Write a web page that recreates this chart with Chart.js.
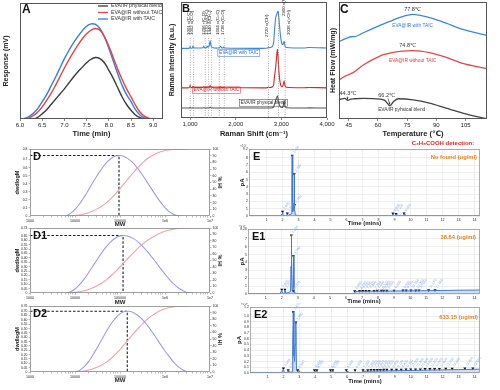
<!DOCTYPE html>
<html><head><meta charset="utf-8">
<script src="https://cdn.jsdelivr.net/npm/chart.js@4.4.1/dist/chart.umd.min.js"></script>
<style>
html,body{margin:0;padding:0;background:#fff;}
body{width:500px;height:390px;position:relative;overflow:hidden;}
canvas{position:absolute;}
</style></head><body>
<canvas id="cA"></canvas><canvas id="cB"></canvas><canvas id="cC"></canvas>
<canvas id="cD"></canvas><canvas id="cD1"></canvas><canvas id="cD2"></canvas>
<canvas id="cE"></canvas><canvas id="cE1"></canvas><canvas id="cE2"></canvas>
<script>
// ===== Panel A : response vs time =====
const aTime    = [6.0,6.1,6.2,6.3,6.4,6.5,6.6,6.7,6.8,6.9,7.0,7.1,7.2,7.3,7.4,7.5,7.6,7.7,7.8,7.9,8.0,8.1,8.2,8.3,8.4,8.5,8.6,8.7,8.8,8.9,9.0,9.1,9.2];
const aBlend   = [0,0,0,0,1.5,4.5,8,12.5,17,21.5,26,31,36,40.5,44.5,48.5,51.5,53,52,48.5,42,35,27,19,12.5,7.5,3.5,1.2,0,0,0,0,0];
const aNoTAIC  = [0,0,0.8,3,6,10.5,16,22,29,36.5,44,51,57.5,63.5,69,73.5,76.5,78,76.5,71,63,53,43,34,26,19,12,6,2.5,0.7,0,0,0];
const aTAIC    = [0,0.5,2,5,9,15,21,28.5,36,44,52,59,65.5,71,76,80,82,81.5,78,71,61,50,39,29,21,15,8,3.5,1,0,0,0,0];
const aTickVals = [6.0,6.5,7.0,7.5,8.0,8.5,9.0];
const aLabels = ['EVA/IR physical blend','EVA@IR without TAIC','EVA@IR with TAIC'];

// ===== Panel B : Raman spectra =====
const ramanShift  = [800,950,990,1001,1015,1050,1062,1078,1150,1280,1296,1315,1360,1370,1385,1420,1440,1460,1500,1640,1664,1690,1720,1738,1760,2600,2700,2720,2740,2800,2830,2850,2870,2885,2900,2915,2930,2950,2980,3010,3036,3060,3080,3110,3500,3600,4000];
const ramanTAIC   = [60,60,60.3,61.5,60.3,60.4,62,60.5,60.3,60.5,62,60.6,60.8,62,61,62.5,66.5,62,60.6,60.5,61.8,60.5,60.4,61.2,60.3,60,60.4,61.2,60.6,61.5,65,76,85,88,89.5,91.5,92,84,71,64,63.5,66,62,60.8,60.3,60.8,60.3];
const ramanNoTAIC = [26,26,26.5,28.5,26.5,26.3,27.2,26.4,26.2,26.3,27,26.4,26.4,26.8,26.4,26.8,28,26.8,26.3,26.2,26.8,26.2,26.2,26.4,26.1,26,26.2,26.6,26.3,26.8,28.5,36,42,48,55,59,51,38,29,27,28,32,28,26.5,26.1,26.3,26];
const ramanBlend  = [8.6,8.6,8.7,9.2,8.7,8.6,9,8.6,8.6,8.6,8.9,8.6,8.6,8.8,8.6,8.7,9.4,8.7,8.6,8.6,8.8,8.6,8.6,8.7,8.6,8.6,8.6,8.8,8.6,8.8,9.5,12,14.5,16.5,18,19,16,12,9.5,9,9.5,15,10,8.8,8.6,8.7,8.6];
const ramanBands  = [1004,1078,1332,1405,1471,1639,1749,2718,2937,3083];
const ramanBandLabels = ['1001 ν(C-C)','1062 ν(C-O)','1296 τ(C-O)','1370 ω(CH₂)','1440 δ(CH₂)','1664 ν(C=C)','1738 ν(C=O)','2720 ν(CH)','2900 ν(CH₂)','3036 ν(=CH)'];
const bTickVals = [1000,2000,3000,4000];

// ===== Panel C : DSC =====
const cTemp    = [40,43,44.5,46,48,52.5,61,63.5,66.2,68,70.5,78,86.5,95,103.5,115.5];
const cTAIC    = [66,68.5,69.4,70.3,70.4,73.7,80,81.8,83.5,84.7,86.4,89.5,86.7,82,76.5,71.7];
const cNoTAIC  = [33.4,36.5,37.6,38.7,40.5,46.2,53.8,55.2,56.3,56.9,57.5,58.4,56.7,52.7,47.6,43.3];
const cBlend   = [16.4,17.6,15.9,17.0,17.3,17.6,17.0,15.9,11.3,15.0,17.3,16.4,13.6,9.3,5.1,0.3];
const cTickVals = [45,60,75,90,105];

// ===== Panels D, D1, D2 : molecular weight distributions =====
const mwGrid = [3980,5010,6310,7940,10000,12600,15800,20000,25100,31600,39800,50100,63100,79400,100000,126000,158000,200000,251000,316000,398000,501000,631000,794000,1000000,1260000,1580000,2000000,2510000,3160000,3980000,5010000];
const dwD  = [null,null,0,0.033,0.083,0.149,0.231,0.324,0.417,0.508,0.592,0.66,0.712,0.742,0.75,0.735,0.702,0.651,0.584,0.508,0.423,0.336,0.252,0.171,0.105,0.051,0.017,0.002,0,null,null,null];
const hiD  = [null,null,0,0.3,0.8,1.6,3,5,7.5,11,15,20,26,33,41,49,57,65,72.5,79,85,89.5,93,95.8,97.7,99,99.8,100,100,100,null,null];
const dwD1 = [null,null,0,0.014,0.046,0.095,0.155,0.23,0.308,0.387,0.462,0.53,0.586,0.627,0.65,0.655,0.643,0.619,0.582,0.534,0.476,0.415,0.348,0.28,0.215,0.153,0.10,0.057,0.025,0.006,0,null];
const hiD1 = [null,null,0,0.3,1,2,3.5,5.5,8,11.5,15.5,20.5,26.5,33,40,47.5,55,62,69,75,80.5,85,89,92.3,95,97,98.3,99.2,99.7,100,100,null];
const dwD2 = [null,null,null,null,0,0.018,0.059,0.119,0.197,0.285,0.378,0.469,0.552,0.62,0.669,0.696,0.699,0.683,0.651,0.604,0.543,0.472,0.397,0.318,0.242,0.174,0.107,0.059,0.022,0.003,0,null];
const hiD2 = [null,null,null,null,0,0.5,1.5,3,5,7.5,11,15,20.5,27,34,42,50,58,66,73,79.5,85,89.5,93,95.8,97.8,99,99.7,100,100,null,null];
const dPeakMW  = [95000,117000,145000];
const dPeakVal = [0.75,0.655,0.70];
const dYMax    = [0.83,0.74,0.76];
const dYStep   = [0.1,0.05,0.05];
const dXLabels = {1000:'1000',10000:'10000',100000:'100000',1000000:'1e6',10000000:'1e7'};

// ===== Panels E, E1, E2 : chromatograms =====
const eTime   = [-0.1,1.9,1.97,2.0,2.04,2.25,2.3,2.34,2.55,2.58,2.6,2.62,2.65,2.7,2.72,2.73,2.76,2.8,3.0,8.85,8.9,8.95,9.05,9.1,9.15,9.55,9.6,9.65,14.35];
const eSignal = [0.05,0.05,0.3,0.55,0.08,0.05,0.3,0.06,0.3,4,8.3,3,0.6,1.4,1.8,5.7,1.0,0.15,0.05,0.05,0.3,0.06,0.05,0.25,0.05,0.05,0.3,0.05,0.05];
const eMarkT  = [2.0,2.3,2.6,2.73,2.75,8.9,9.1,9.6];
const eMarkV  = [0.6,0.35,8.3,5.75,1.5,0.35,0.3,0.35];
const e1Time   = [-0.1,1.9,2.0,2.05,2.15,2.2,2.25,2.55,2.58,2.6,2.62,2.65,2.7,2.73,2.76,2.8,3.0,6.5,6.6,7.0,8.0,9.0,10.0,11.0,12.0,13.0,14.0,14.35];
const e1Signal = [0.05,0.05,0.5,0.1,0.1,0.5,0.08,0.3,3.5,7.45,2.5,0.5,1.2,4.8,0.8,0.15,0.05,0.05,0.3,0.33,0.36,0.38,0.4,0.42,0.45,0.48,0.5,0.52];
const e1MarkT  = [2.0,2.2,2.6,2.73,2.72,6.55,6.85,7.05,7.25,7.45,7.75,7.95,8.2,8.35,8.55,9.0,9.55,9.75,10.05,10.35,10.55,11.15,11.55];
const e1MarkV  = [0.55,0.55,7.45,4.8,0.4,0.35,0.38,0.38,0.4,0.4,0.4,0.42,0.42,0.42,0.43,0.44,0.45,0.45,0.46,0.46,0.47,0.48,0.49];
const e2Time   = [-0.1,1.9,2.0,2.05,2.25,2.3,2.35,2.55,2.58,2.62,2.66,2.7,2.74,2.78,2.82,2.95,3.0,3.05,3.95,4.0,4.1,4.15,4.95,5.0,5.1,5.15,5.95,6.0,6.05,6.9,7.0,8.0,9.0,10.0,11.0,12.0,13.0,14.0,14.35];
const e2Signal = [0.01,0.01,0.07,0.01,0.01,0.04,0.01,0.02,0.5,1.07,0.3,0.2,0.5,0.89,0.05,0.01,0.04,0.01,0.01,0.035,0.035,0.01,0.01,0.035,0.035,0.01,0.01,0.035,0.01,0.01,0.03,0.035,0.04,0.045,0.05,0.055,0.06,0.065,0.068];
const e2MarkT  = [2.0,2.3,2.62,2.78,2.9,3.95,4.1,4.95,5.1,5.95,6.5,7.0,7.3,7.5,7.7,7.9,8.1,8.3,8.5,8.8,9.1,9.4,9.7,10.0,10.3,10.6,10.9,11.2,11.5,11.8,12.2,12.6,13.4,13.9];
const e2MarkV  = [0.08,0.05,1.07,0.89,0.05,0.05,0.05,0.05,0.05,0.05,0.05,0.05,0.05,0.055,0.055,0.055,0.055,0.06,0.06,0.06,0.06,0.06,0.065,0.065,0.065,0.065,0.07,0.07,0.07,0.07,0.075,0.075,0.08,0.08];
const eTickVals = [1,2,3,4,5,6,7,8,9,10,11,12,13,14];
const eYMax  = [9.2,8.26,1.16];
const eYStep = [1,1,0.1];
const eConc  = ['No found (ug/ml)','38.64 (ug/ml)','633.15 (ug/ml)'];

// ===== helpers =====
const FONT = "'Liberation Sans', Arial, 'DejaVu Sans', 'Noto Sans CJK SC', sans-serif";
Chart.defaults.font.family = FONT;
Chart.defaults.color = '#222';
Chart.defaults.animation = false;
Chart.defaults.responsive = false;
Chart.defaults.devicePixelRatio = 1;
Chart.defaults.plugins.legend.display = false;
Chart.defaults.plugins.tooltip.enabled = false;
Chart.defaults.elements.point.radius = 0;

const fixW = w => s => { s.width = w; s.paddingTop = 0; s.paddingBottom = 0; };
const fixH = h => s => { s.height = h; s.paddingLeft = 0; s.paddingRight = 0; };
const setTicks = arr => s => { s.ticks = arr.map(v => ({value: v})); };
const pts = (xs, ys) => xs.map((x, i) => ({x: x, y: ys[i]})).filter(p => p.y !== null);

const framePlugin = { id: 'frame', afterDatasetsDraw(chart, args, o) {
  const ctx = chart.ctx, a = chart.chartArea;
  ctx.save(); ctx.strokeStyle = o.color || '#444'; ctx.lineWidth = o.width || 1;
  ctx.strokeRect(Math.round(a.left) + 0.5, Math.round(a.top) + 0.5, Math.round(a.width) - 1, Math.round(a.height) - 1);
  ctx.restore();
}};
const textPlugin = { id: 'texts', afterDraw(chart, args, o) {
  const ctx = chart.ctx, a = chart.chartArea;
  (o.lines || []).forEach(l => {
    const xs = chart.scales.x, ys = chart.scales.y;
    const x1 = xs.getPixelForValue(l.from[0]), y1 = ys.getPixelForValue(l.from[1]);
    const x2 = xs.getPixelForValue(l.to[0]), y2 = ys.getPixelForValue(l.to[1]);
    ctx.save(); ctx.strokeStyle = l.color || '#333'; ctx.fillStyle = l.color || '#333'; ctx.lineWidth = 0.7;
    ctx.beginPath(); ctx.moveTo(x1, y1); ctx.lineTo(x2, y2); ctx.stroke();
    const ang = Math.atan2(y2 - y1, x2 - x1);
    ctx.beginPath(); ctx.moveTo(x2, y2);
    ctx.lineTo(x2 - 2.2 * Math.cos(ang - 0.5), y2 - 2.2 * Math.sin(ang - 0.5));
    ctx.lineTo(x2 - 2.2 * Math.cos(ang + 0.5), y2 - 2.2 * Math.sin(ang + 0.5));
    ctx.closePath(); ctx.fill(); ctx.restore();
  });
  (o.items || []).forEach(t => {
    let x, y;
    if (t.data) { x = chart.scales[t.xs || 'x'].getPixelForValue(t.data[0]); y = chart.scales[t.ys || 'y'].getPixelForValue(t.data[1]); }
    else { x = a.left + t.dx; y = a.top + t.dy; }
    ctx.save(); ctx.translate(x, y); if (t.rot) ctx.rotate(t.rot);
    ctx.font = t.font; ctx.fillStyle = t.color || '#222';
    ctx.textAlign = t.align || 'left'; ctx.textBaseline = t.base || 'middle';
    ctx.fillText(t.text, 0, 0);
    if (t.box) {
      const w = ctx.measureText(t.text).width, h = t.box;
      let bx = -1.5; if (t.align === 'center') bx = -w / 2 - 1.5; if (t.align === 'right') bx = -w - 1.5;
      ctx.strokeStyle = t.color; ctx.lineWidth = 0.5; ctx.strokeRect(bx, -h / 2 - 1, w + 3, h + 2);
    }
    ctx.restore();
  });
}};
const legendPlugin = { id: 'legendA', afterDraw(chart, args, o) {
  const ctx = chart.ctx; ctx.save(); ctx.font = o.font; ctx.textBaseline = 'middle';
  chart.data.datasets.forEach((ds, i) => {
    const y = o.y + i * o.dy;
    ctx.strokeStyle = ds.borderColor; ctx.lineWidth = 1.3;
    ctx.beginPath(); ctx.moveTo(o.x, y); ctx.lineTo(o.x + o.len, y); ctx.stroke();
    ctx.fillStyle = '#333'; ctx.fillText(ds.label, o.x + o.len + 3, y);
  });
  ctx.restore();
}};
const bandPlugin = { id: 'bands', afterDatasetsDraw(chart, args, o) {
  const ctx = chart.ctx, xs = chart.scales.x, a = chart.chartArea;
  ctx.save();
  o.pos.forEach((p, i) => {
    const st = o.style[i];
    const x = xs.getPixelForValue(p);
    ctx.strokeStyle = '#8a8a8a'; ctx.lineWidth = 0.7; ctx.setLineDash([1, 1.4]);
    ctx.beginPath(); ctx.moveTo(x, a.top + st.lineTop); ctx.lineTo(x, a.bottom); ctx.stroke();
    ctx.setLineDash([]);
    ctx.save(); ctx.translate(x + st.tdx, a.top + st.textBottom); ctx.rotate(-Math.PI / 2);
    ctx.font = o.font; ctx.fillStyle = '#222'; ctx.textBaseline = 'middle'; ctx.textAlign = 'left';
    ctx.fillText(o.labels[i], 0, 0); ctx.restore();
  });
  ctx.restore();
}};
const markPlugin = { id: 'markLabels', afterDatasetsDraw(chart, args, o) {
  const meta = chart.getDatasetMeta(o.index), ds = chart.data.datasets[o.index], ctx = chart.ctx;
  ctx.save(); ctx.font = o.font; ctx.fillStyle = o.color; ctx.textBaseline = 'middle';
  meta.data.forEach((p, i) => {
    ctx.save(); ctx.translate(p.x + 1.5, p.y - 2.5); ctx.rotate(-0.95);
    ctx.fillText(ds.data[i].x.toFixed(3), 0, 0); ctx.restore();
  });
  ctx.restore();
}};

function mk(id, box, cfg) {
  const c = document.getElementById(id);
  c.width = box[2]; c.height = box[3];
  c.style.left = box[0] + 'px'; c.style.top = box[1] + 'px';
  c.style.width = box[2] + 'px'; c.style.height = box[3] + 'px';
  return new Chart(c, cfg);
}
const axisGridOff = {display: false};
const tickMarks = {display: true, drawOnChartArea: false, drawTicks: true, tickLength: 2, color: '#555', lineWidth: 0.7};

// ===== A =====
mk('cA', [0, 0, 170, 140], {
  type: 'line',
  data: { datasets: [
    {label: aLabels[0], data: pts(aTime, aBlend), borderColor: '#3a3a3a'},
    {label: aLabels[1], data: pts(aTime, aNoTAIC), borderColor: '#e8433d'},
    {label: aLabels[2], data: pts(aTime, aTAIC), borderColor: '#2f7fe4'}
  ]},
  options: {
    layout: {padding: {top: 3, right: 7, left: 0, bottom: 0}},
    elements: {line: {tension: 0.4, borderWidth: 1.4}},
    scales: {
      x: {type: 'linear', min: 6.0, max: 9.22, afterFit: fixH(21), afterBuildTicks: setTicks(aTickVals),
          ticks: {font: {size: 6}, padding: 1, maxRotation: 0, autoSkip: false, callback: v => v.toFixed(1)},
          grid: tickMarks, border: {display: false},
          title: {display: true, text: 'Time (min)', font: {size: 7.5, weight: 'bold'}, padding: {top: 0, bottom: 1.5}}},
      y: {min: 0, max: 100, afterFit: fixW(20), ticks: {display: false}, grid: axisGridOff, border: {display: false},
          title: {display: true, text: 'Response (mV)', font: {size: 7, weight: 'bold'}, padding: {top: 1.5, bottom: 0}}}
    },
    plugins: {
      frame: {color: '#555'},
      legendA: {x: 98, y: 6, dy: 6.5, len: 10, font: '5.2px ' + FONT},
      texts: {items: [{text: 'A', dx: 2, dy: 1, font: 'bold 12px ' + FONT, base: 'top', color: '#111'}]}
    }
  },
  plugins: [framePlugin, textPlugin, legendPlugin]
});

// ===== B =====
const bandStyle = [
  {lineTop: 36, textBottom: 33, tdx: -1.5}, {lineTop: 36, textBottom: 33, tdx: -1.5},
  {lineTop: 36, textBottom: 33, tdx: -1.5}, {lineTop: 36, textBottom: 33, tdx: -1.5},
  {lineTop: 36, textBottom: 33, tdx: -1.5}, {lineTop: 36, textBottom: 33, tdx: -1.5},
  {lineTop: 36, textBottom: 33, tdx: -1.5}, {lineTop: 37, textBottom: 35, tdx: -2},
  {lineTop: 14, textBottom: 14, tdx: 5}, {lineTop: 40, textBottom: 33, tdx: 4}
];
mk('cB', [168, 0, 168, 140], {
  type: 'line',
  data: { datasets: [
    {data: pts(ramanShift, ramanTAIC), borderColor: '#3b86e0'},
    {data: pts(ramanShift, ramanNoTAIC), borderColor: '#e02424'},
    {data: pts(ramanShift, ramanBlend), borderColor: '#555'}
  ]},
  options: {
    layout: {padding: {top: 2, right: 9, left: 0, bottom: 0}},
    elements: {line: {tension: 0.2, borderWidth: 1.1}},
    scales: {
      x: {type: 'linear', min: 800, max: 4000, afterFit: fixH(22), afterBuildTicks: setTicks(bTickVals),
          ticks: {font: {size: 6}, padding: 1, maxRotation: 0, autoSkip: false},
          grid: tickMarks, border: {display: false},
          title: {display: true, text: 'Raman Shift (cm⁻¹)', font: {size: 7.5, weight: 'bold'}, padding: {top: 0, bottom: 2}}},
      y: {min: 0, max: 100, afterFit: fixW(13), ticks: {display: false}, grid: axisGridOff, border: {display: false},
          title: {display: true, text: 'Raman Intensity (a.u.)', font: {size: 7, weight: 'bold'}, padding: {top: 0, bottom: 0}}}
    },
    plugins: {
      frame: {color: '#555'},
      bands: {pos: ramanBands, labels: ramanBandLabels, style: bandStyle, font: '4.4px ' + FONT},
      texts: {items: [
        {text: 'B', dx: 1, dy: 1, font: 'bold 11px ' + FONT, base: 'top', color: '#111'},
        {text: 'EVA@IR with TAIC', data: [1640, 56], font: '4.6px ' + FONT, color: '#2f6fd0', box: 4.6},
        {text: 'EVA@IR without TAIC', data: [1080, 24], font: '4.6px ' + FONT, color: '#e02424', box: 4.6},
        {text: 'EVA/IR physical blend', data: [2110, 13], font: '4.6px ' + FONT, color: '#333', box: 4.6}
      ]}
    }
  },
  plugins: [framePlugin, textPlugin, bandPlugin]
});

// ===== C =====
mk('cC', [329, 0, 171, 140], {
  type: 'line',
  data: { datasets: [
    {data: pts(cTemp, cTAIC), borderColor: '#3a86e6'},
    {data: pts(cTemp, cNoTAIC), borderColor: '#e84545'},
    {data: pts(cTemp, cBlend), borderColor: '#444'}
  ]},
  options: {
    layout: {padding: {top: 2, right: 13, left: 0, bottom: 0}},
    elements: {line: {cubicInterpolationMode: 'monotone', borderWidth: 1.3}},
    scales: {
      x: {type: 'linear', min: 40, max: 116, afterFit: fixH(21), afterBuildTicks: setTicks(cTickVals),
          ticks: {font: {size: 6}, padding: 1, maxRotation: 0, autoSkip: false},
          grid: tickMarks, border: {display: false},
          title: {display: true, text: 'Temperature (℃)', font: {size: 7.5, weight: 'bold'}, padding: {top: 0, bottom: 1.5}}},
      y: {min: 0, max: 100, afterFit: fixW(10), ticks: {display: false}, grid: axisGridOff, border: {display: false},
          title: {display: true, text: 'Heat Flow (mW/mg)', font: {size: 7, weight: 'bold'}, padding: {top: 0, bottom: 0}}}
    },
    plugins: {
      frame: {color: '#555'},
      texts: {
        lines: [{from: [44.3, 19.2], to: [44.4, 16.6]}, {from: [65.2, 17.5], to: [66.1, 12.3]}],
        items: [
        {text: 'C', dx: 1, dy: 2, font: 'bold 12px ' + FONT, base: 'top', color: '#111'},
        {text: '77.8℃', data: [77.8, 93.5], font: '5.5px ' + FONT, align: 'center', color: '#333'},
        {text: 'EVA@IR with TAIC', data: [77.8, 79.5], font: '4.8px ' + FONT, align: 'center', color: '#2f7fe0'},
        {text: '74.8℃', data: [75.3, 63.2], font: '5.5px ' + FONT, align: 'center', color: '#333'},
        {text: 'EVA@IR without TAIC', data: [77.8, 49.6], font: '4.8px ' + FONT, align: 'center', color: '#e23c3c'},
        {text: '44.3℃', data: [44.6, 21.5], font: '5.5px ' + FONT, align: 'center', color: '#333'},
        {text: '66.2℃', data: [64.5, 20.5], font: '5.5px ' + FONT, align: 'center', color: '#333'},
        {text: 'EVA/IR pyhsical blend', data: [72.2, 7.7], font: '4.8px ' + FONT, align: 'center', color: '#333'}
      ]}
    }
  },
  plugins: [framePlugin, textPlugin]
});

// ===== D panels =====
const logTicks = [];
for (let e = 3; e <= 7; e++) for (let m = 1; m <= 9; m++) { const v = m * Math.pow(10, e); if (v <= 1e7) logTicks.push(v); }
function makeD(id, box, padTop, xH, titlePB, dw, hi, k, letter) {
  const pm = dPeakMW[k], pv = dPeakVal[k];
  return mk(id, box, {
    type: 'line',
    data: { datasets: [
      {data: pts(mwGrid, dw), borderColor: '#9c9cf2', yAxisID: 'y', cubicInterpolationMode: 'monotone', borderWidth: 1.1},
      {data: pts(mwGrid, hi), borderColor: '#f2a2aa', yAxisID: 'y2', cubicInterpolationMode: 'monotone', borderWidth: 1.1},
      {data: [{x: 1000, y: pv}, {x: pm, y: pv}, {x: pm, y: 0}], borderColor: '#1a1a1a', borderDash: [2.5, 1.8], borderWidth: 1.1, tension: 0, yAxisID: 'y'}
    ]},
    options: {
      layout: {padding: {top: padTop, right: 0, left: 0, bottom: 0}},
      scales: {
        x: {type: 'logarithmic', min: 1000, max: 1e7, afterFit: fixH(xH), afterBuildTicks: setTicks(logTicks),
            ticks: {font: {size: 3.6}, padding: 1, maxRotation: 0, autoSkip: false, callback: v => (dXLabels[v] || '')},
            grid: {display: true, drawOnChartArea: false, drawTicks: true, tickLength: 1.5, color: '#777', lineWidth: 0.5}, border: {display: false},
            title: {display: true, text: 'MW', font: {size: 6, weight: 'bold'}, padding: {top: 0, bottom: titlePB}}},
        y: {min: 0, max: dYMax[k], afterFit: fixW(30),
            ticks: {font: {size: 3.4}, padding: 1, stepSize: dYStep[k], autoSkip: false},
            grid: {display: true, drawOnChartArea: false, drawTicks: true, tickLength: 1.5, color: '#777', lineWidth: 0.5}, border: {display: false},
            title: {display: true, text: 'dwdlogM', font: {size: 5.5, weight: 'bold'}, padding: {top: 14.5, bottom: 0}}},
        y2: {position: 'right', min: 0, max: 100, afterFit: fixW(25),
            ticks: {font: {size: 3.4}, padding: 1, stepSize: 10, autoSkip: false},
            grid: {display: true, drawOnChartArea: false, drawTicks: true, tickLength: 1.5, color: '#777', lineWidth: 0.5}, border: {display: false},
            title: {display: true, text: '% HI', font: {size: 5.5, weight: 'bold'}, padding: {top: 12.5, bottom: 0}}}
      },
      plugins: {
        frame: {color: '#888', width: 0.8},
        texts: {items: [{text: letter, dx: 3, dy: 2, font: 'bold 11px ' + FONT, base: 'top', color: '#111'}]}
      }
    },
    plugins: [framePlugin, textPlugin]
  });
}
makeD('cD',  [0, 140, 235, 90], 9, 14, 2.4, dwD,  hiD,  0, 'D');
makeD('cD1', [0, 225, 235, 83], 3, 15, 2.4, dwD1, hiD1, 1, 'D1');
makeD('cD2', [0, 303, 235, 87], 3, 18, 6.4, dwD2, hiD2, 2, 'D2');

// ===== E panels =====
function makeE(id, box, yW, padTop, xH, titlePB, titleP, t, s, mt, mv, k, letter, concDy) {
  return mk(id, box, {
    type: 'line',
    data: { datasets: [
      {data: pts(t, s), borderColor: '#3f78d8', borderWidth: 1, tension: 0, fill: 'origin', backgroundColor: 'rgba(90,135,225,0.28)'},
      {data: pts(mt, mv), showLine: false, pointRadius: 1.8, pointStyle: 'triangle', pointRotation: 180, pointBackgroundColor: '#111', pointBorderColor: '#111', pointBorderWidth: 0}
    ]},
    options: {
      layout: {padding: {top: padTop, right: 20, left: 0, bottom: 0}},
      scales: {
        x: {type: 'linear', min: -0.1, max: 14.35, afterFit: fixH(xH), afterBuildTicks: setTicks(eTickVals),
            ticks: {font: {size: 3.6}, padding: 1.5, maxRotation: 0, autoSkip: false},
            grid: {color: '#e2e2e2', lineWidth: 0.6, drawTicks: false}, border: {display: false},
            title: {display: true, text: 'Time (mins)', font: {size: 6, weight: 'bold'}, padding: {top: 0, bottom: titlePB}}},
        y: {min: 0, max: eYMax[k], afterFit: fixW(yW),
            ticks: {font: {size: 3.4}, padding: 1.2, stepSize: eYStep[k], autoSkip: false, callback: v => (eYStep[k] < 1 ? v.toFixed(1) : String(v))},
            grid: {color: '#e2e2e2', lineWidth: 0.6, drawTicks: false}, border: {display: false},
            title: {display: true, text: 'pA', font: {size: 6, weight: 'bold'}, padding: {top: titleP, bottom: 0}}}
      },
      plugins: {
        frame: {color: '#999', width: 0.8},
        markLabels: {index: 1, font: '3.4px ' + FONT, color: '#86a8e8'},
        texts: {items: [
          {text: letter, dx: 4, dy: 2.5, font: 'bold 11px ' + FONT, base: 'top', color: '#111'},
          {text: eConc[k], dx: 228, dy: concDy, font: 'bold 5.8px ' + FONT, align: 'right', color: '#e8821e'},
          {text: k === 2 ? '×10⁸' : '×10⁷', dx: -9, dy: -3, font: '3.2px ' + FONT, color: '#444'}
        ].concat(k === 0 ? [{text: 'C₃H₅COOH detection:', dx: 194, dy: -5.5, font: 'bold 6px ' + FONT, align: 'center', color: '#e52424'}] : [])}
      }
    },
    plugins: [framePlugin, textPlugin, markPlugin]
  });
}
makeE('cE',  [235, 140, 265, 90], 14, 9, 14, 3.4, 3.4, eTime,  eSignal,  eMarkT,  eMarkV,  0, 'E', 8);
makeE('cE1', [235, 225, 265, 85], 13, 3, 16, 4.7, 3.4, e1Time, e1Signal, e1MarkT, e1MarkV, 1, 'E1', 8);
makeE('cE2', [235, 303, 265, 87], 15, 3, 17, 5.4, 0.4, e2Time, e2Signal, e2MarkT, e2MarkV, 2, 'E2', 10);
</script>
</body></html>
